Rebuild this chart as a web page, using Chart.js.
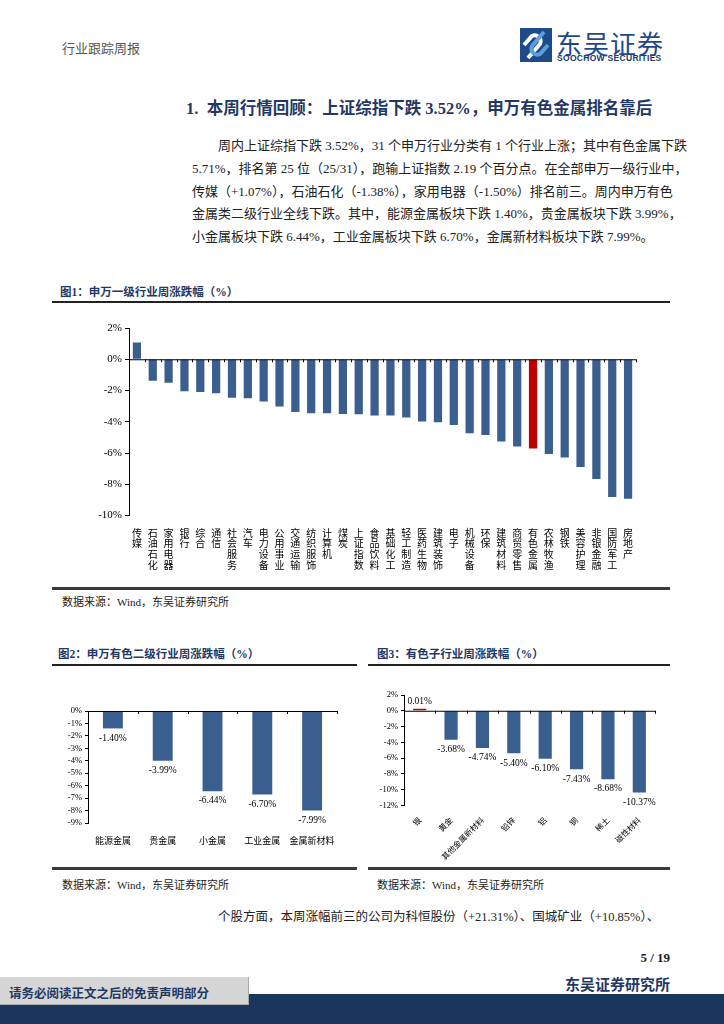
<!DOCTYPE html>
<html>
<head>
<meta charset="utf-8">
<script src="https://cdn.jsdelivr.net/npm/chart.js@4.4.1/dist/chart.umd.min.js"></script>
<style>
  body { margin: 0; background: #fff; }
  #page { position: relative; width: 724px; height: 1024px; overflow: hidden; font-family: "Liberation Serif", "Noto Sans CJK SC", serif; color: #222; }
  .abs { position: absolute; white-space: nowrap; }
  .figtitle { font-weight: bold; font-size: 11.5px; color: #1f3864; font-family: "Liberation Serif", "Noto Sans CJK SC", serif; }
  .rule { position: absolute; height: 2px; background: #222; }
  .rule2 { position: absolute; height: 3px; background: #3a3a3a; }
  .src { font-size: 11px; color: #222; }
  .line { position: absolute; left: 192px; width: 478px; font-size: 13px; line-height: 23px; text-align: justify; text-align-last: justify; white-space: nowrap; }
  canvas { position: absolute; }
</style>
</head>
<body>
<div id="page">
  <div class="abs" style="left:62px;top:38px;font-size:13px;color:#555;">行业跟踪周报</div>

  <svg class="abs" style="left:520px;top:28px;" width="32" height="34" viewBox="0 0 32 34">
    <rect x="0" y="0" width="32" height="34" fill="#1f4a8a"/>
    <path d="M8 30 L20 16 A6 6 0 0 0 12 8 L4 17" stroke="#fff" stroke-width="4" fill="none"/>
    <path d="M24 4 L12 18 A6 6 0 0 0 20 26 L28 17" stroke="#5aa0dc" stroke-width="4" fill="none"/>
  </svg>
  <div class="abs" style="left:556px;top:24px;font-size:26px;color:#1f4a8a;font-family:'Noto Sans CJK SC';letter-spacing:1px;">东吴证券</div>
  <div class="abs" style="left:557px;top:53px;font-size:8.5px;font-weight:bold;color:#1f3864;font-family:'Liberation Sans';letter-spacing:0.3px;">SOOCHOW SECURITIES</div>

  <div class="abs" style="left:186px;top:95px;font-size:16.5px;font-weight:bold;color:#1f3864;">1.&nbsp;&nbsp;本周行情回顾：上证综指下跌 3.52%，申万有色金属排名靠后</div>

  <div class="line" style="top:134px;left:218px;width:452px;">周内上证综指下跌 3.52%，31 个申万行业分类有 1 个行业上涨；其中有色金属下跌</div>
  <div class="line" style="top:157px;">5.71%，排名第 25 位（25/31），跑输上证指数 2.19 个百分点。在全部申万一级行业中，</div>
  <div class="line" style="top:180px;">传媒（+1.07%），石油石化（-1.38%），家用电器（-1.50%）排名前三。周内申万有色</div>
  <div class="line" style="top:202px;">金属类二级行业全线下跌。其中，能源金属板块下跌 1.40%，贵金属板块下跌 3.99%，</div>
  <div class="line" style="top:225px;text-align-last:left;">小金属板块下跌 6.44%，工业金属板块下跌 6.70%，金属新材料板块下跌 7.99%。</div>

  <div class="abs figtitle" style="left:60px;top:283px;">图1：申万一级行业周涨跌幅（%）</div>
  <div class="rule" style="left:52px;top:301px;width:618px;"></div>
  <canvas id="chart1" width="618" height="270" style="left:52px;top:310px;"></canvas>
  <div class="rule2" style="left:52px;top:587px;width:618px;"></div>
  <div class="abs src" style="left:62px;top:593px;">数据来源：Wind，东吴证券研究所</div>

  <div class="abs figtitle" style="left:58px;top:645px;">图2：申万有色二级行业周涨跌幅（%）</div>
  <div class="rule" style="left:52px;top:664px;width:305px;"></div>
  <canvas id="chart2" width="305" height="180" style="left:52px;top:680px;"></canvas>
  <div class="rule2" style="left:52px;top:867px;width:305px;"></div>
  <div class="abs src" style="left:62px;top:876px;">数据来源：Wind，东吴证券研究所</div>

  <div class="abs figtitle" style="left:377px;top:645px;">图3：有色子行业周涨跌幅（%）</div>
  <div class="rule" style="left:368px;top:664px;width:302px;"></div>
  <canvas id="chart3" width="300" height="185" style="left:368px;top:680px;"></canvas>
  <div class="rule2" style="left:368px;top:867px;width:302px;"></div>
  <div class="abs src" style="left:377px;top:876px;">数据来源：Wind，东吴证券研究所</div>

  <div class="abs" style="left:218px;top:906px;font-size:12.5px;">个股方面，本周涨幅前三的公司为科恒股份（+21.31%）、国城矿业（+10.85%）、</div>

  <div class="abs" style="right:54px;top:950px;font-size:13px;font-weight:bold;">5 / 19</div>
  <div class="abs" style="right:54px;top:973px;font-size:15px;font-weight:bold;color:#1f3864;">东吴证券研究所</div>

  <div class="abs" style="left:0;top:994px;width:724px;height:30px;background:#1b365d;"></div>
  <div class="abs" style="left:0;top:977px;width:248px;height:27px;background:#d6d6d6;border-right:1px solid #aaa;border-bottom:1px solid #aaa;"></div>
  <div class="abs" style="left:9px;top:983px;font-size:12.5px;font-weight:bold;color:#1f3864;">请务必阅读正文之后的免责声明部分</div>
</div>

<script>
// 图1 申万一级行业
const industries = ['传媒', '石油石化', '家用电器', '银行', '综合', '通信', '社会服务', '汽车', '电力设备', '公用事业', '交通运输', '纺织服饰', '计算机', '煤炭', '上证指数', '食品饮料', '基础化工', '轻工制造', '医药生物', '建筑装饰', '电子', '机械设备', '环保', '建筑材料', '商贸零售', '有色金属', '农林牧渔', '钢铁', '美容护理', '非银金融', '国防军工', '房地产'];
const industryChange = [1.07, -1.38, -1.50, -2.05, -2.10, -2.18, -2.46, -2.50, -2.70, -3.02, -3.38, -3.45, -3.45, -3.51, -3.52, -3.60, -3.60, -3.72, -3.98, -4.03, -4.20, -4.73, -4.84, -5.27, -5.59, -5.71, -6.06, -6.29, -6.89, -7.66, -8.82, -8.93];
const highlightIndustry = '有色金属';
const ticks1 = [2, 0, -2, -4, -6, -8, -10];

// 图2 申万有色二级行业
const subSectors = ['能源金属', '贵金属', '小金属', '工业金属', '金属新材料'];
const subSectorChange = [-1.40, -3.99, -6.44, -6.70, -7.99];

// 图3 有色子行业
const metals = ['银', '黄金', '其他金属新材料', '铅锌', '铝', '铜', '稀土', '磁性材料'];
const metalChange = [0.01, -3.68, -4.74, -5.40, -6.10, -7.43, -8.68, -10.37];

const BLUE = '#3a5f8f';
const RED = '#c00000';
const cjk = '"Noto Sans CJK SC"';
const serif = '"Liberation Serif"';

// 零轴 + 类别分隔短刻度
const zeroAxis = {
  id: 'zeroAxis',
  afterDatasetsDraw(chart) {
    const { ctx } = chart;
    const x = chart.scales.x;
    const y = chart.scales.y;
    const y0 = y.getPixelForValue(0);
    ctx.save();
    ctx.strokeStyle = '#000';
    ctx.lineWidth = 1;
    ctx.beginPath();
    ctx.moveTo(x.left, y0 + 0.5);
    ctx.lineTo(x.right, y0 + 0.5);
    const n = chart.data.labels.length;
    for (let i = 0; i <= n; i += 1) {
      const px = Math.round(x.getPixelForValue(i - 0.5)) + 0.5;
      ctx.moveTo(px, y0);
      ctx.lineTo(px, y0 + 3);
    }
    ctx.stroke();
    ctx.restore();
  },
};

// 数据标签
const valueLabels = {
  id: 'valueLabels',
  afterDatasetsDraw(chart, args, opts) {
    if (!opts.show) return;
    const { ctx } = chart;
    const meta = chart.getDatasetMeta(0);
    const values = chart.data.datasets[0].data;
    ctx.save();
    ctx.font = opts.font;
    ctx.fillStyle = '#000';
    ctx.textAlign = 'center';
    meta.data.forEach((bar, i) => {
      const v = values[i];
      const txt = v.toFixed(2) + '%';
      if (v >= 0) {
        ctx.textBaseline = 'bottom';
        ctx.fillText(txt, bar.x, bar.y - 3);
      } else {
        ctx.textBaseline = 'top';
        ctx.fillText(txt, bar.x, bar.y + 5);
      }
    });
    ctx.restore();
  },
};

const makeChart = (id, cfg) => {
  const ctx = document.getElementById(id).getContext('2d');
  return new Chart(ctx, {
    type: 'bar',
    data: {
      labels: cfg.labels,
      datasets: [{
        data: cfg.values,
        backgroundColor: cfg.colors,
        barPercentage: cfg.barPct,
        categoryPercentage: 1,
        minBarLength: cfg.minBar || 0,
      }],
    },
    options: {
      responsive: false,
      animation: false,
      layout: { padding: { left: 0, top: cfg.top, right: cfg.right, bottom: 0 } },
      plugins: {
        legend: { display: false },
        tooltip: { enabled: false },
        valueLabels: { show: cfg.showValues, font: cfg.valueFont },
      },
      scales: {
        x: {
          grid: { display: false },
          border: { display: false },
          ticks: {
            color: '#000',
            font: { family: cjk, size: cfg.xFontSize, lineHeight: cfg.xLineHeight || 1.2 },
            padding: cfg.xPad,
            autoSkip: false,
            maxRotation: cfg.rotation,
            minRotation: cfg.rotation,
          },
          afterFit: (s) => { s.height = cfg.xHeight; },
        },
        y: {
          min: cfg.min,
          max: cfg.max,
          grid: { drawOnChartArea: false, tickLength: cfg.tickLen, tickColor: '#000' },
          border: { display: true, color: '#000', width: 1 },
          ticks: {
            stepSize: cfg.step,
            autoSkip: false,
            color: '#000',
            font: { family: serif, size: cfg.yFontSize },
            padding: 3,
            callback: (v) => v + '%',
          },
          afterFit: (s) => { s.width = cfg.left; },
        },
      },
    },
    plugins: [zeroAxis, valueLabels],
  });
};

makeChart('chart1', {
  labels: industries.map((s) => s.split('')),
  values: industryChange,
  colors: industries.map((s) => (s === highlightIndustry ? RED : BLUE)),
  barPct: 0.52,
  min: ticks1[ticks1.length - 1],
  max: ticks1[0],
  step: 2,
  left: 77, top: 18, right: 34, xHeight: 64.5,
  xFontSize: 10, xLineHeight: 1.08, xPad: 4, rotation: 0,
  yFontSize: 11, tickLen: 4,
  showValues: false,
});

makeChart('chart2', {
  labels: subSectors,
  values: subSectorChange,
  colors: subSectors.map(() => BLUE),
  barPct: 0.4,
  min: -9, max: 0, step: 1,
  left: 36, top: 31, right: 20, xHeight: 37,
  xFontSize: 9, xPad: 4, rotation: 0,
  yFontSize: 8.5, tickLen: 3,
  showValues: true, valueFont: '9.5px "Liberation Serif"',
});

makeChart('chart3', {
  labels: metals,
  values: metalChange,
  colors: metals.map((m, i) => (metalChange[i] > 0 ? RED : BLUE)),
  barPct: 0.42,
  minBar: 2,
  min: -12, max: 2, step: 2,
  left: 36, top: 15, right: 13, xHeight: 59.7,
  xFontSize: 8, xPad: 2, rotation: 45,
  yFontSize: 8.5, tickLen: 3,
  showValues: true, valueFont: '9.5px "Liberation Serif"',
});
</script>
</body>
</html>
